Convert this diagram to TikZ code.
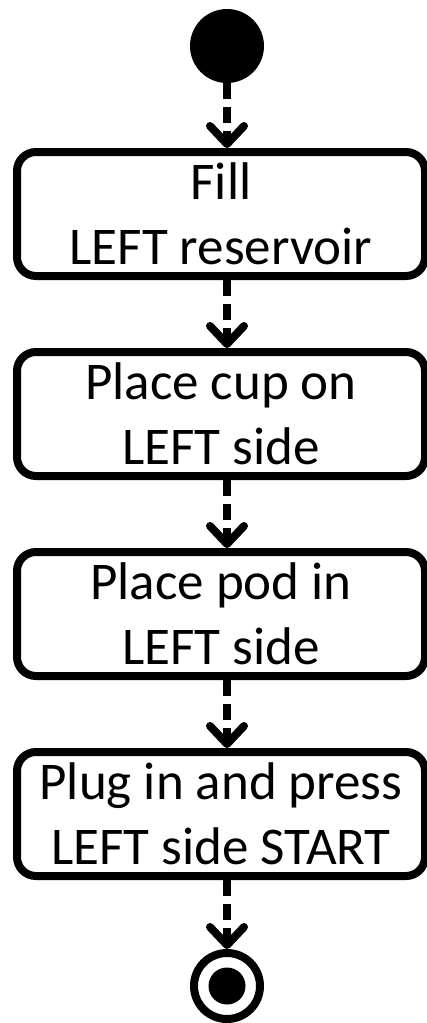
\documentclass[tikz,border=0pt]{standalone}
\usepackage{fontspec}
\setmainfont{Carlito}
\usetikzlibrary{arrows.meta}
\begin{document}
\begin{tikzpicture}[x=1pt,y=-1pt,
  actbox/.style={draw, line width=8pt, rounded corners=19pt,
    minimum width=408pt, minimum height=124pt, inner sep=0pt,
    align=center, font=\fontsize{53}{65}\selectfont},
  flow/.style={line width=8pt, dash pattern=on 16pt off 8pt,
    -{Straight Barb[length=18pt,width=34pt,round]}},
  startdot/.style={circle, fill=black, minimum size=74pt, inner sep=0pt},
  endring/.style={circle, draw, line width=8pt, minimum size=66pt, inner sep=0pt},
  enddot/.style={circle, fill=black, minimum size=37pt, inner sep=0pt}]
  \useasboundingbox (0,0) rectangle (426,1023);

  % initial and final states
  \node[startdot] (start) at (227,46) {};
  \node[endring] (stop) at (227,986) {};
  \node[enddot] (stopdot) at (227,986) {};

  % activities
  \node[actbox] (b1) at (221,214) {Fill\\LEFT reservoir};
  \node[actbox] (b2) at (221,414) {Place cup on\\LEFT side};
  \node[actbox] (b3) at (221,614) {Place pod in\\LEFT side};
  \node[actbox] (b4) at (221,814) {Plug in and press\\LEFT side START};

  % control flow
  \draw[flow] (start) -- (start |- b1.north);
  \draw[flow] (b1.south -| start) -- (start |- b2.north);
  \draw[flow] (b2.south -| start) -- (start |- b3.north);
  \draw[flow] (b3.south -| start) -- (start |- b4.north);
  \draw[flow] (b4.south -| start) -- (stop);
\end{tikzpicture}
\end{document}
